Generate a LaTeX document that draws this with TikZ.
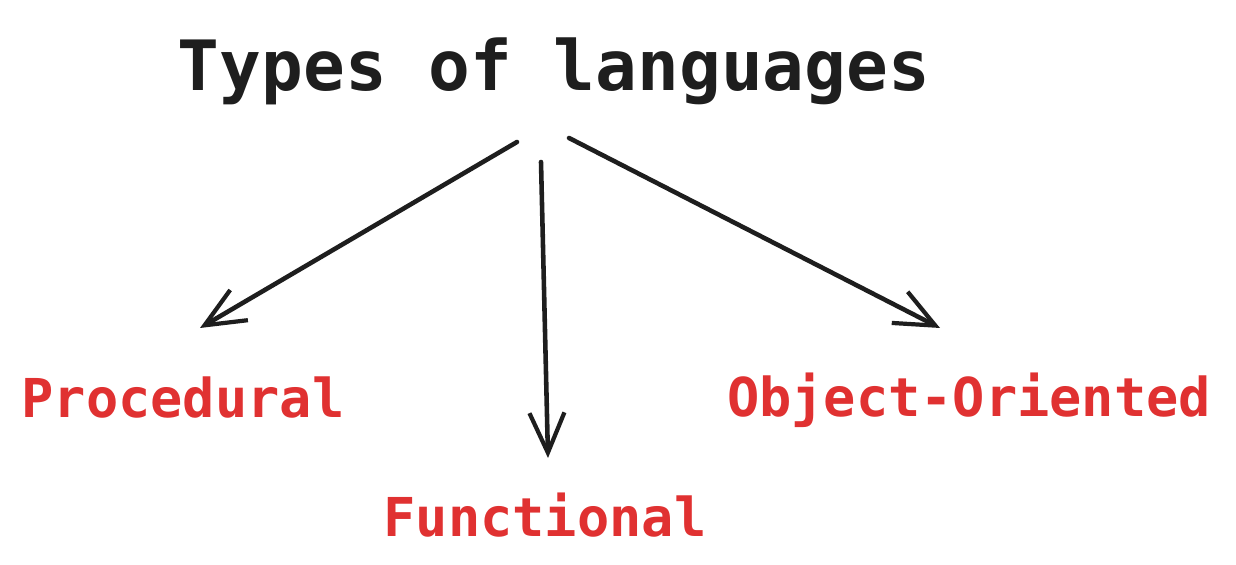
\documentclass[tikz,border=0pt]{standalone}
\usepackage{fontspec}
\setmonofont{DejaVu Sans Mono}
\usetikzlibrary{arrows.meta}
\definecolor{ink}{HTML}{1E1E1E}
\definecolor{redink}{HTML}{E03131}
\begin{document}
\begin{tikzpicture}[font=\ttfamily,
    title/.style={ink, font=\ttfamily\bfseries\fontsize{39.5}{42}\selectfont},
    kind/.style={redink, font=\ttfamily\bfseries\fontsize{30.5}{33}\selectfont},
    arr/.style={ink, line width=2.6pt, line cap=round, -{Straight Barb[length=8mm,width=7mm,line width=2.4pt]}}]
    \useasboundingbox (0,0) rectangle (24.72,11.3);
    \node[title] (top) at (11.08,9.88) {Types of languages};
    \node[kind] (proc) at (3.66,3.34) {Procedural};
    \node[kind] (func) at (10.9,1.0) {Functional};
    \node[kind] (oop) at (19.38,3.30) {Object-Oriented};
    \coordinate (s1) at (10.34,8.46);
    \coordinate (e1) at (4.0,4.74);
    \coordinate (s2) at (10.82,8.06);
    \coordinate (e2) at (10.96,2.14);
    \coordinate (s3) at (11.38,8.54);
    \coordinate (e3) at (18.8,4.74);
    \draw[arr] (s1) -- (e1);
    \draw[arr] (s2) -- (e2);
    \draw[arr] (s3) -- (e3);
\end{tikzpicture}
\end{document}
